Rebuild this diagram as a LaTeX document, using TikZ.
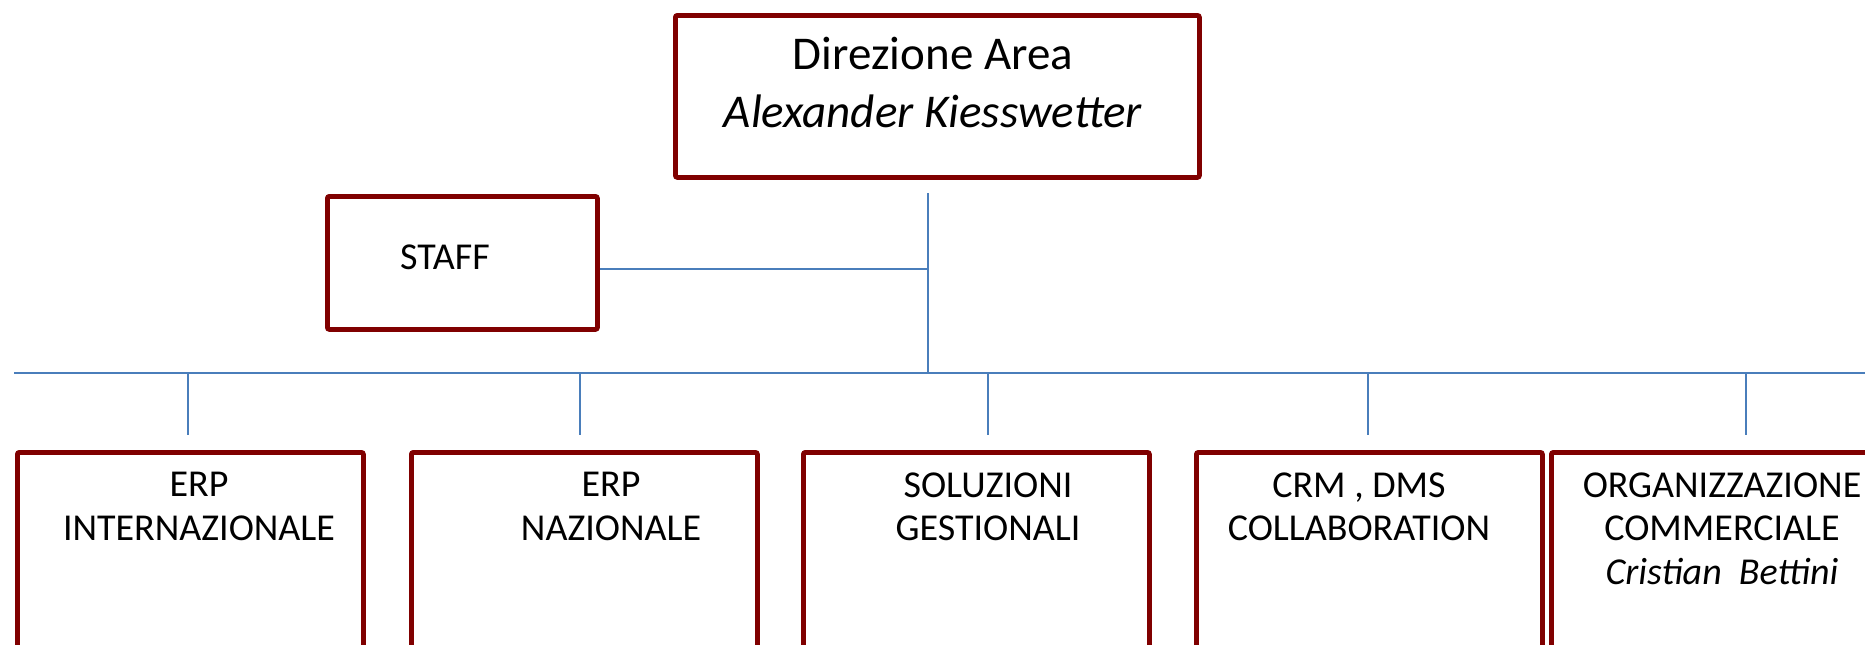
\documentclass[tikz,border=0pt]{standalone}
\usepackage{fontspec}
\setmainfont{Carlito}
\usetikzlibrary{positioning}
\definecolor{boxred}{RGB}{128,0,0}
\definecolor{linkblue}{RGB}{74,126,187}

\begin{document}
\begin{tikzpicture}[x=0.5pt, y=-0.5pt,
    unit/.style={draw=boxred, line width=2.4pt, rounded corners=1pt, inner sep=0pt,
                 anchor=north west, minimum width=173pt, minimum height=110pt},
    link/.style={draw=linkblue, line width=1pt},
    lbl/.style={align=center, inner sep=0pt, anchor=north, font=\fontsize{19}{21.75}\selectfont}]
    \useasboundingbox (0,0) rectangle (1865,644);
    \clip (0,0) rectangle (1865,644);

    % direzione
    \node[unit, minimum width=262pt, minimum height=81pt] (dir) at (673,13) {};
    \node[align=center, font=\fontsize{23.5}{29}\selectfont] (dirtext) at (933,82) {Direzione Area\\\textit{Alexander Kiesswetter}};

    % staff
    \node[unit, minimum width=135pt, minimum height=66.5pt] (staff) at (325,194) {};
    \node[font=\fontsize{19}{22}\selectfont] (stafftext) at (445,257) {STAFF};

    % bottom row
    \node[unit] (erpint) at (15,450) {};
    \node[unit] (erpnaz) at (409,450) {};
    \node[unit] (soluz) at (801,450) {};
    \node[unit] (crm) at (1194,450) {};
    \node[unit] (comm) at (1549,450) {};

    \node[lbl] (erpinttext) at (199,472) {ERP\\INTERNAZIONALE};
    \node[lbl] (erpnaztext) at (611,472) {ERP\\NAZIONALE};
    \node[lbl] (soluztext) at (988,472) {SOLUZIONI\\GESTIONALI};
    \node[lbl] (crmtext) at (1359,472) {CRM , DMS\\COLLABORATION};
    \node[lbl] (commtext) at (1722,472) {ORGANIZZAZIONE\\COMMERCIALE\\\textit{Cristian\ \ Bettini}};

    % connectors
    \coordinate (trunk) at (928,193);
    \coordinate (busL) at (14,373);
    \coordinate (busR) at (1865,373);
    \draw[link] (busL) -- (busR);
    \draw[link] (trunk) -- (trunk |- busL);
    \draw[link] ([yshift=-3pt]staff.east) -- ([yshift=-3pt]staff.east -| trunk);
    \foreach \x/\n in {188/1, 580/2, 988/3, 1368/4, 1746/5} {
        \coordinate (drop\n) at (\x,435);
        \draw[link] (drop\n |- busL) -- (drop\n);
    }
\end{tikzpicture}
\end{document}
